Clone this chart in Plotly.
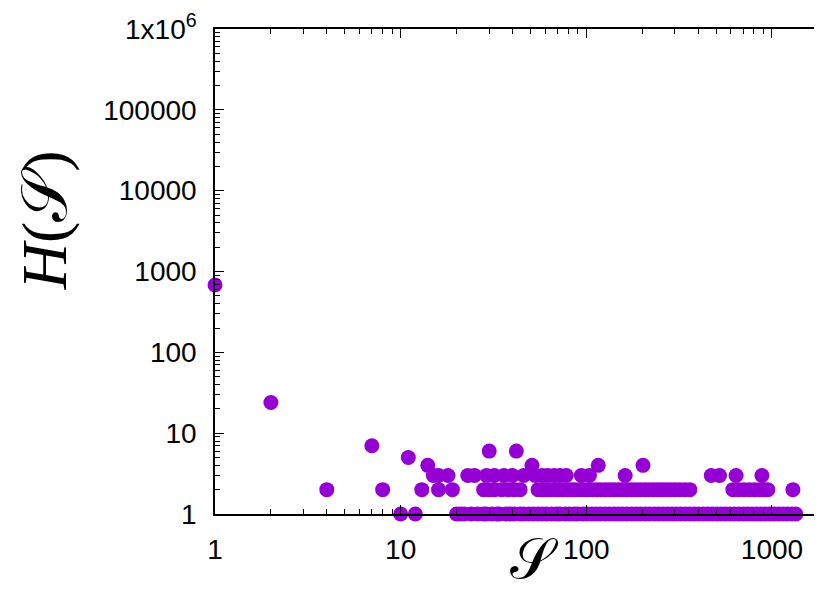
import plotly.graph_objects as go

# ---- data (S = size, H = count) ----
s_h1 = [10, 12, 20, 21, 22, 24, 26, 28, 29, 31, 33, 34, 37, 39, 41, 44, 46, 49, 52, 55,
        58, 61, 65, 69, 72, 77, 81, 86, 90, 96, 101, 107, 113, 119, 126, 133, 141, 149,
        157, 166, 176, 186, 196, 208, 219, 232, 245, 259, 274, 290, 306, 323, 342, 361,
        382, 403, 426, 450, 476, 503, 531, 561, 593, 627, 662, 700, 739, 781, 825, 872,
        921, 973, 1028, 1086, 1147, 1212, 1280, 1345]
s_h2 = [4, 8, 13, 16, 19, 28, 30, 32, 35, 38, 41, 44, 55, 58, 61, 64, 68, 71, 75, 79,
        83, 87, 92, 97, 102, 108, 114, 120, 127, 134, 141, 149, 157, 166, 175, 185, 195,
        206, 218, 230, 243, 256, 270, 285, 301, 318, 339, 361, 616, 660, 705, 755, 805,
        860, 910, 950, 1297]
s_h3 = [15, 16, 18, 23, 25, 29, 32, 36, 40, 46, 53, 58, 62, 67, 72, 78, 94, 104, 162,
        471, 522, 641, 883]
s_h4 = [14, 51, 116, 202]
s_h5 = [11]
s_h6 = [30, 42]
s_h7 = [7]
s_h24 = [2]
s_h680 = [1]

groups = [(s_h1, 1), (s_h2, 2), (s_h3, 3), (s_h4, 4), (s_h5, 5), (s_h6, 6),
          (s_h7, 7), (s_h24, 24), (s_h680, 680)]
xs, ys = [], []
for svals, h in groups:
    xs += svals
    ys += [h] * len(svals)

x_ticks = [1, 10, 100, 1000]
x_ticktext = ["1", "10", "100", "1000"]
y_ticks = [1, 10, 100, 1000, 10000, 100000, 1000000]
y_ticktext = ["1", "10", "100", "1000", "10000", "100000", "1x10<sup>6</sup>"]

COLOR = "#9400D3"
TICKFONT = dict(family="Liberation Sans, Arial, sans-serif", size=28, color="black")

fig = go.Figure()
fig.add_trace(go.Scatter(
    x=xs, y=ys, mode="markers",
    marker=dict(size=15, color=COLOR, line=dict(width=0)),
    cliponaxis=False, showlegend=False,
))

minor_x = [m * 10 ** d for d in range(0, 4) for m in range(2, 10)]
minor_y = [m * 10 ** d for d in range(0, 6) for m in range(2, 10)]

axis_common = dict(
    type="log", showgrid=False, zeroline=False, automargin=False,
    showline=True, linecolor="black", linewidth=1.5, mirror="ticks",
    ticks="inside", ticklen=9, tickwidth=1.2, tickcolor="black",
    tickfont=TICKFONT,
)
fig.update_xaxes(
    **axis_common, range=[0, 3.275], tickmode="array",
    tickvals=x_ticks, ticktext=x_ticktext, ticklabelstandoff=10,
    minor=dict(ticks="inside", ticklen=5, tickwidth=1, tickcolor="black",
               tickmode="array", tickvals=minor_x, showgrid=False),
)
fig.update_yaxes(
    **axis_common, range=[0, 6], tickmode="array",
    tickvals=y_ticks, ticktext=y_ticktext, ticklabelstandoff=11,
    minor=dict(ticks="inside", ticklen=5, tickwidth=1, tickcolor="black",
               tickmode="array", tickvals=minor_y, showgrid=False),
)

fig.add_annotation(
    text="<i>H</i>(𝒮)", xref="paper", yref="paper",
    x=-0.281, y=0.606, xanchor="center", yanchor="middle",
    textangle=-90, showarrow=False,
    font=dict(family="Liberation Serif, DejaVu Serif, serif", size=64, color="black"),
)
fig.add_annotation(
    text="𝒮", xref="paper", yref="paper",
    x=0.526, y=-0.092, xanchor="center", yanchor="middle",
    showarrow=False,
    font=dict(family="Liberation Serif, DejaVu Serif, serif", size=56, color="black"),
)

fig.update_layout(
    width=822, height=591,
    margin=dict(l=207, r=7, t=21, b=85, autoexpand=False),
    paper_bgcolor="white", plot_bgcolor="white",
)

fig.write_html("out.html")
